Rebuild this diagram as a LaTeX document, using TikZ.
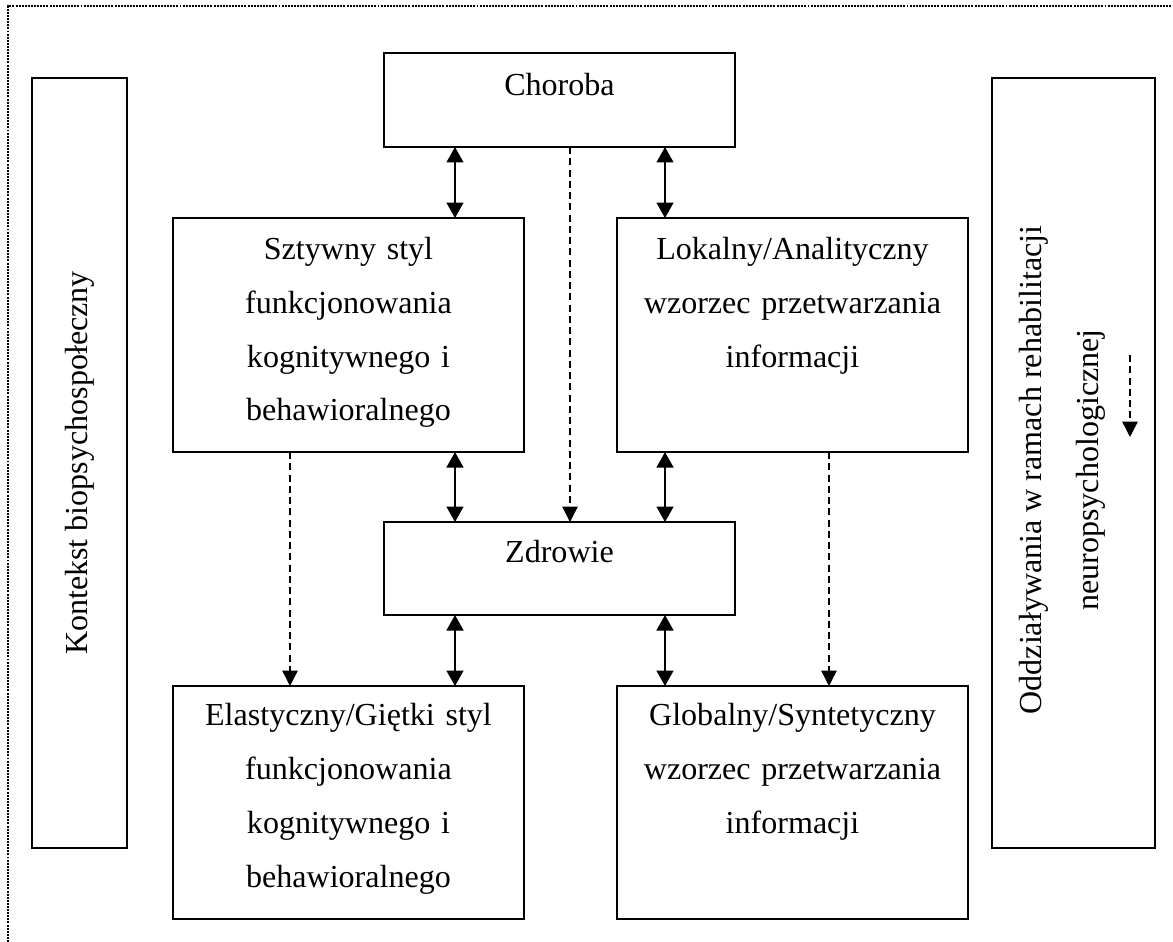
\documentclass[tikz,border=0pt]{standalone}
\usepackage{fontspec}
\setmainfont{Liberation Serif}
\usetikzlibrary{arrows.meta}

\begin{document}
\begin{tikzpicture}[x=0.025cm, y=-0.025cm,
  box/.style={draw, line width=1.4pt, inner sep=0pt, outer sep=0pt, anchor=north west},
  lbl/.style={inner sep=0pt, anchor=base, align=center, text width=8.6cm,
              font=\fontsize{22.8}{38.4}\selectfont},
  side/.style={inner sep=0pt, rotate=90, align=center,
               font=\fontsize{22.8}{40.5}\selectfont},
  link/.style={line width=1.4pt,
               {Triangle[length=11pt,width=12pt]}-{Triangle[length=11pt,width=12pt]}},
  flow/.style={line width=1pt, dash pattern=on 5pt off 3pt,
               -{Triangle[length=11pt,width=11pt]}},
  outerframe/.style={line width=1.4pt, dash pattern=on 1.4pt off 0.8pt}]

  \useasboundingbox (0,0) rectangle (1173,942);

  % dotted frame along the top and left edges
  \coordinate (fbl) at (8,942);
  \coordinate (ftl) at (8,6);
  \coordinate (ftr) at (1173,6);
  \draw[outerframe] (fbl) -- (ftl) -- (ftr);

  % side panels
  \node[box, minimum width=2.375cm, minimum height=19.25cm] (context) at (32,78) {};
  \node[box, minimum width=4.075cm, minimum height=19.25cm] (therapy) at (992,78) {};
  \node[side] (contextlbl) at (80,463) {Kontekst biopsychospołeczny};
  \node[side] (therapylbl) at (1062,470)
       {Oddziaływania w ramach rehabilitacji\\neuropsychologicznej};
  \coordinate (hintA) at (1130,355);
  \coordinate (hintB) at (1130,437);
  \draw[flow] (hintA) -- (hintB);

  % central boxes
  \node[box, minimum width=8.775cm, minimum height=2.35cm]  (choroba)  at (384,53) {};
  \node[box, minimum width=8.775cm, minimum height=2.325cm] (zdrowie)  at (384,522) {};
  \node[box, minimum width=8.775cm, minimum height=5.85cm]  (sztywny)  at (173,218) {};
  \node[box, minimum width=8.775cm, minimum height=5.85cm]  (lokalny)  at (617,218) {};
  \node[box, minimum width=8.775cm, minimum height=5.825cm] (elast)    at (173,686) {};
  \node[box, minimum width=8.775cm, minimum height=5.825cm] (global)   at (617,686) {};

  \node[lbl] (chorobalbl) at (559.5,95) {Choroba};
  \node[lbl] (zdrowielbl) at (559.5,562) {Zdrowie};
  \node[lbl] (sztywnylbl) at (348.5,259)
       {Sztywny styl\\funkcjonowania\\kognitywnego i\\behawioralnego};
  \node[lbl] (lokalnylbl) at (792.5,259)
       {Lokalny/Analityczny\\wzorzec przetwarzania\\informacji};
  \node[lbl] (elastlbl) at (348.5,725)
       {Elastyczny/Giętki styl\\funkcjonowania\\kognitywnego i\\behawioralnego};
  \node[lbl] (globallbl) at (792.5,725)
       {Globalny/Syntetyczny\\wzorzec przetwarzania\\informacji};

  % connector columns
  \coordinate (colA) at (455,0);
  \coordinate (colB) at (665,0);
  \coordinate (colM) at (570,0);
  \coordinate (colL) at (290,0);
  \coordinate (colR) at (829,0);

  % two-way links
  \draw[link] (choroba.south -| colA) -- (sztywny.north -| colA);
  \draw[link] (choroba.south -| colB) -- (lokalny.north -| colB);
  \draw[link] (sztywny.south -| colA) -- (zdrowie.north -| colA);
  \draw[link] (lokalny.south -| colB) -- (zdrowie.north -| colB);
  \draw[link] (zdrowie.south -| colA) -- (elast.north -| colA);
  \draw[link] (zdrowie.south -| colB) -- (global.north -| colB);

  % one-way dashed transitions
  \draw[flow] (choroba.south -| colM) -- (zdrowie.north -| colM);
  \draw[flow] (sztywny.south -| colL) -- (elast.north -| colL);
  \draw[flow] (lokalny.south -| colR) -- (global.north -| colR);
\end{tikzpicture}
\end{document}
